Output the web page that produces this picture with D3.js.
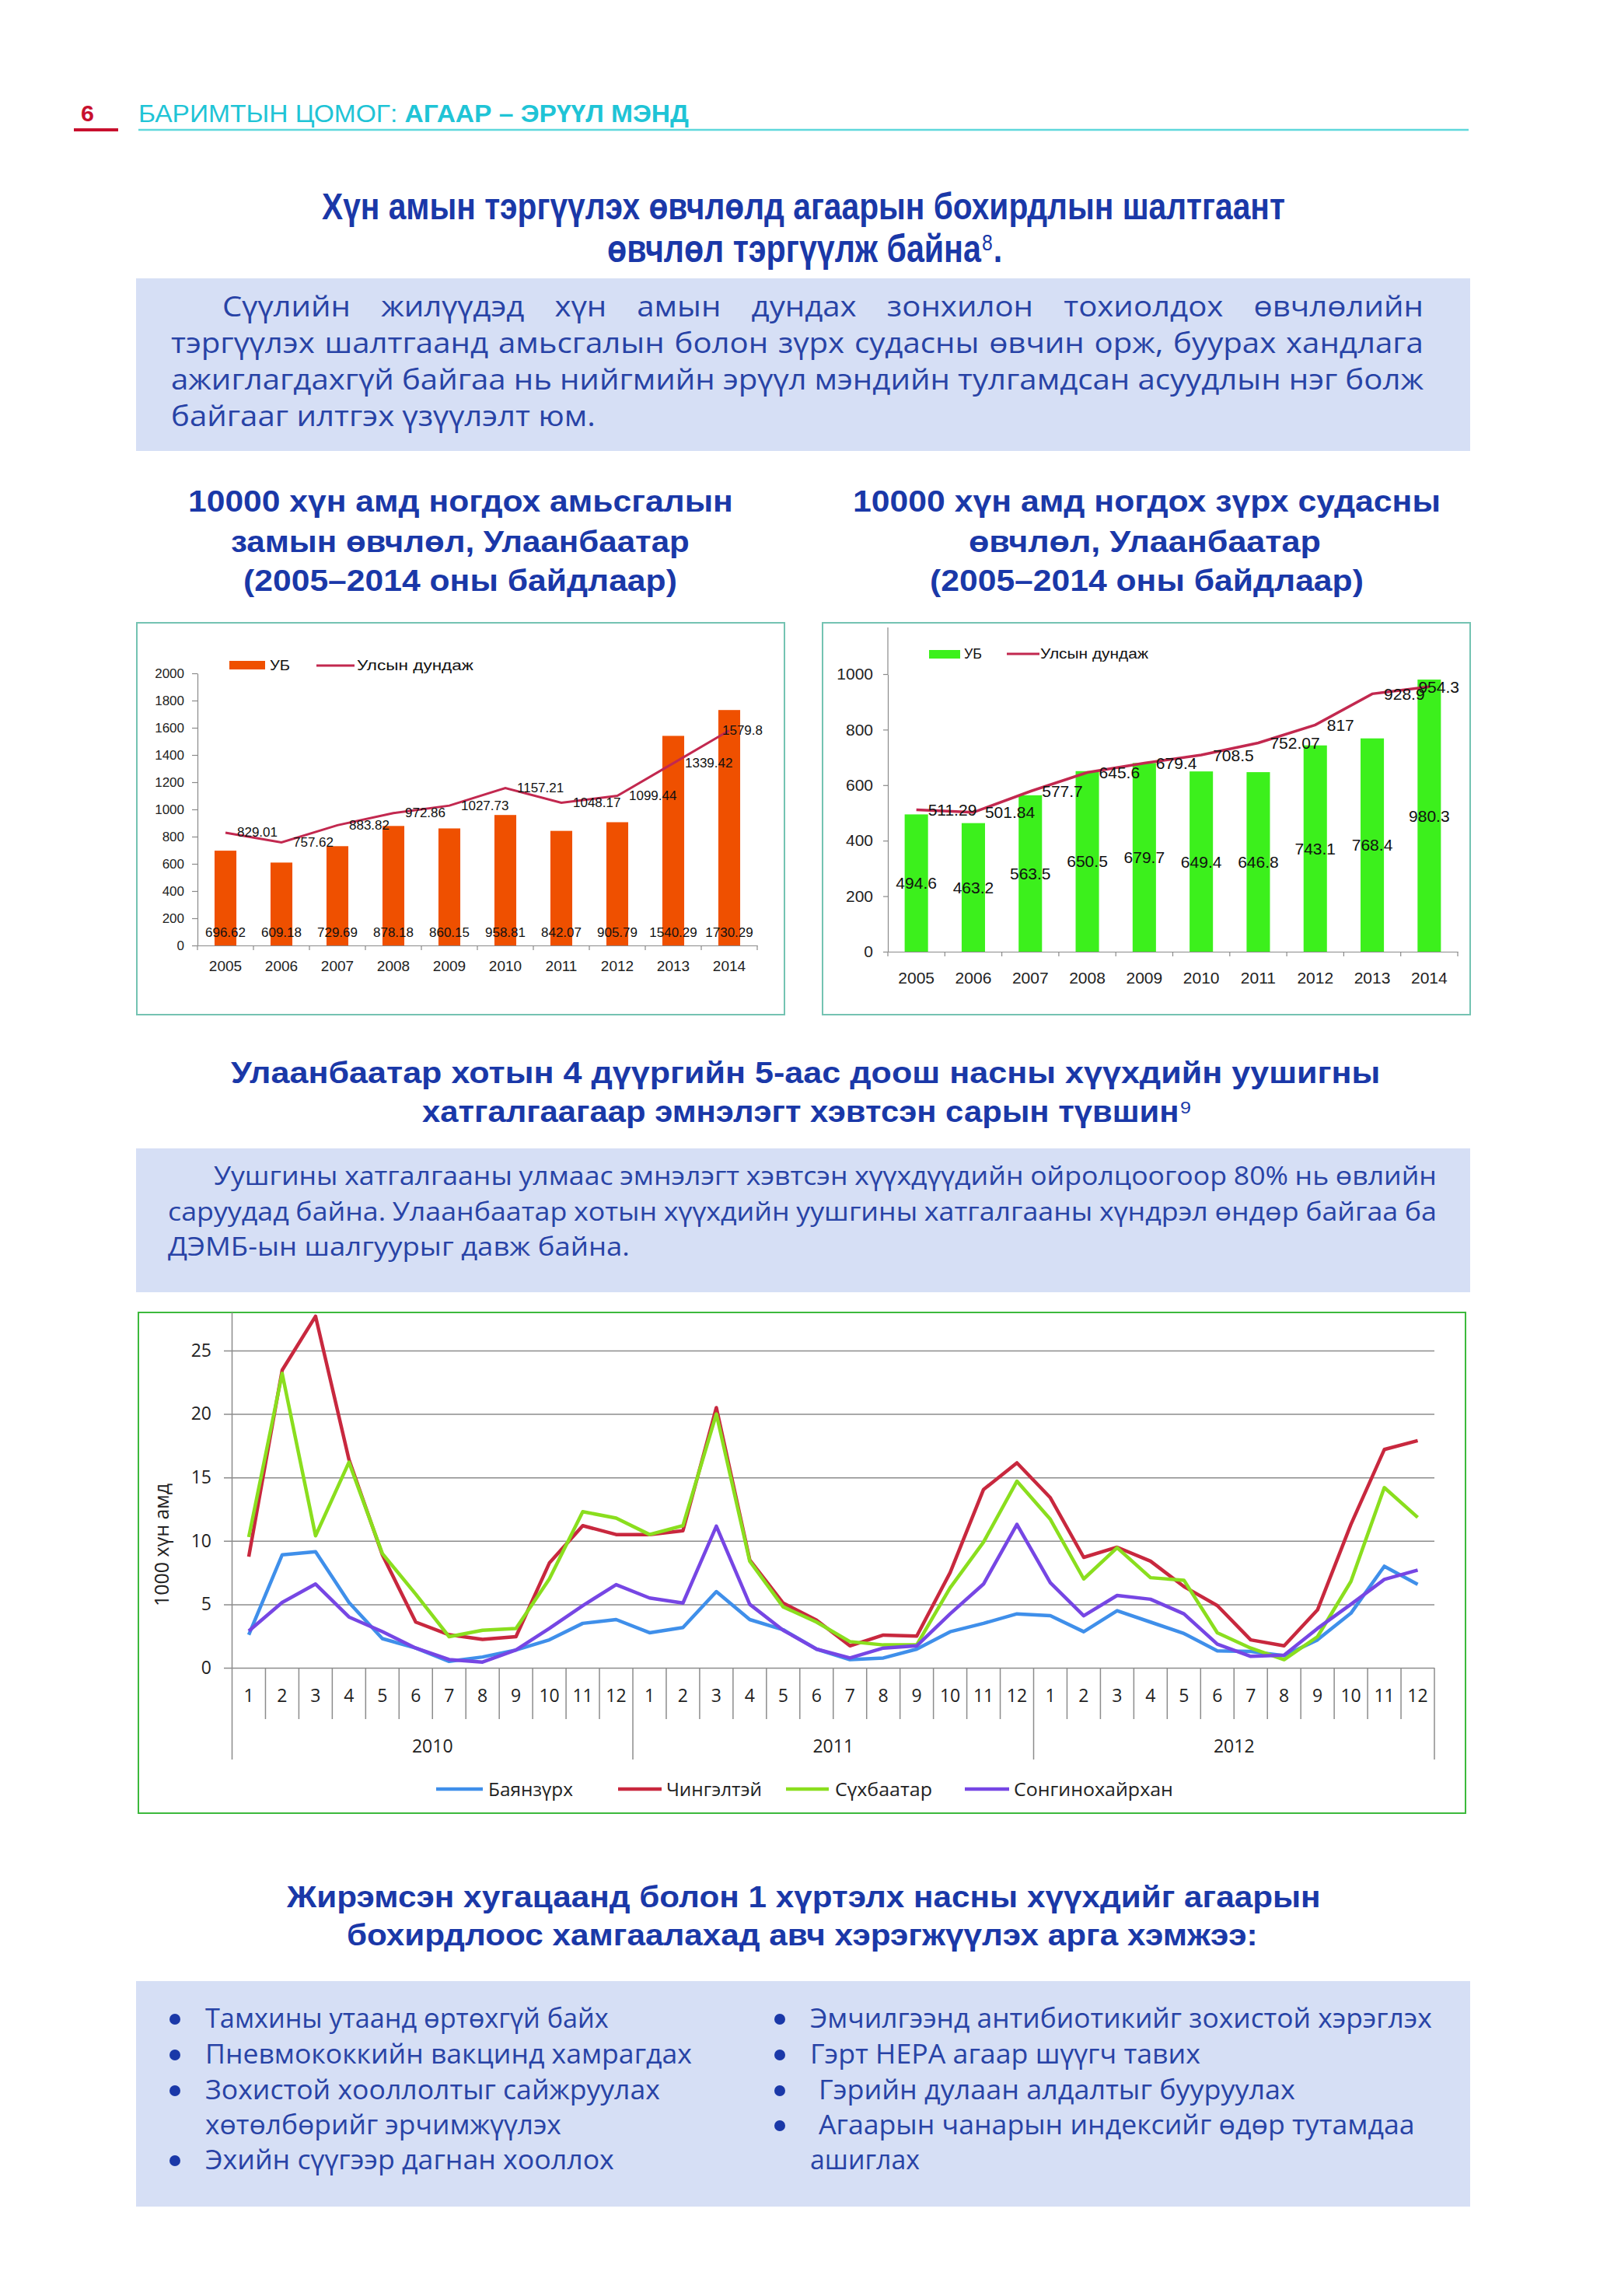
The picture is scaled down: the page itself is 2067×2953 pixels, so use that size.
<!DOCTYPE html>
<html>
<head>
<meta charset="utf-8">
<script src="https://cdn.jsdelivr.net/npm/d3@7"></script>
<style>
  body { margin: 0; background: #fff; }
  svg { display: block; }
</style>
</head>
<body>
<script>
// ---- data ----
const years = [2005, 2006, 2007, 2008, 2009, 2010, 2011, 2012, 2013, 2014];
const respUB = [696.62, 609.18, 729.69, 878.18, 860.15, 958.81, 842.07, 905.79, 1540.29, 1730.29];
const respNat = [829.01, 757.62, 883.82, 972.86, 1027.73, 1157.21, 1048.17, 1099.44, 1339.42, 1579.8];
const cardUB = [494.6, 463.2, 563.5, 650.5, 679.7, 649.4, 646.8, 743.1, 768.4, 980.3];
const cardNat = [511.29, 501.84, 577.7, 645.6, 679.4, 708.5, 752.07, 817, 928.9, 954.3];
const respTicks = [0, 200, 400, 600, 800, 1000, 1200, 1400, 1600, 1800, 2000];
const cardTicks = [0, 200, 400, 600, 800, 1000];

const monthYears = ["2010", "2011", "2012"];
const months = [1, 2, 3, 4, 5, 6, 7, 8, 9, 10, 11, 12];
const pneuTicks = [0, 5, 10, 15, 20, 25];
const bayanzurkh = [2.6, 8.9, 9.15, 5.15, 2.3, 1.55, 0.5, 0.85, 1.4, 2.2, 3.5, 3.8,
  2.76, 3.17, 6.0, 3.8, 3.0, 1.47, 0.64, 0.77, 1.47, 2.84, 3.5, 4.25,
  4.1, 2.84, 4.5, 3.6, 2.7, 1.34, 1.29, 0.95, 2.2, 4.3, 8.0, 6.57];
const chingeltei = [8.76, 23.45, 27.7, 16.4, 8.9, 3.6, 2.6, 2.24, 2.45, 8.25, 11.2, 10.5,
  10.5, 10.8, 20.5, 8.5, 5.1, 3.75, 1.73, 2.58, 2.5, 7.5, 14.05, 16.15,
  13.4, 8.7, 9.5, 8.4, 6.4, 4.9, 2.2, 1.73, 4.56, 11.3, 17.2, 17.9];
const sukhbaatar = [10.3, 23.2, 10.4, 16.2, 9.0, 5.8, 2.45, 2.96, 3.1, 7.0, 12.3, 11.8,
  10.5, 11.2, 20.0, 8.4, 4.8, 3.6, 2.06, 1.8, 1.8, 6.3, 9.9, 14.7,
  11.7, 7.0, 9.46, 7.1, 6.9, 2.76, 1.55, 0.64, 2.45, 6.8, 14.2, 11.85];
const songino = [2.9, 5.15, 6.6, 4.0, 2.85, 1.55, 0.65, 0.45, 1.4, 3.1, 4.9, 6.55,
  5.5, 5.1, 11.16, 5.0, 2.96, 1.47, 0.77, 1.55, 1.73, 4.25, 6.6, 11.3,
  6.7, 4.1, 5.7, 5.4, 4.25, 1.86, 0.9, 1.0, 3.1, 5.0, 6.96, 7.7];
const districts = ["Баянзүрх", "Чингэлтэй", "Сүхбаатар", "Сонгинохайрхан"];
const districtValues = [bayanzurkh, chingeltei, sukhbaatar, songino];

const leftBullets = ["Тамхины утаанд өртөхгүй байх", "Пневмококкийн вакцинд хамрагдах",
  "Зохистой хооллолтыг сайжруулах", "хөтөлбөрийг эрчимжүүлэх", "Эхийн сүүгээр дагнан хооллох"];
const rightBullets = ["Эмчилгээнд антибиотикийг зохистой хэрэглэх", "Гэрт HEPA агаар шүүгч тавих",
  "Гэрийн дулаан алдалтыг бууруулах", "Агаарын чанарын индексийг өдөр тутамдаа", "ашиглах"];

// ---- look ----
const W = 2067, H = 2953;
const SANS = "'Liberation Sans', Arial, sans-serif";
const BODY = "'Open Sans', 'Noto Sans', sans-serif";
const NARROW = "'Liberation Sans Narrow', 'Liberation Sans', Arial, sans-serif";
const TITLE = "#1a38a8";
const TEXT = "#2843a6";
const BOX = "#d6dff5";
const districtColors = ["#3f8fea", "#c8283e", "#8ade1e", "#7646e4"];

const svg = d3.select("body").append("svg").attr("width", W).attr("height", H);
svg.append("rect").attr("width", W).attr("height", H).attr("fill", "#fff");

// squeeze/stretch a text horizontally to a given width (keeps its box honest)
function fit(t, x, y, len) {
    const w = t.node().getComputedTextLength();
    t.attr("x", 0).attr("y", 0).attr("transform", `translate(${x},${y}) scale(${len / w},1)`);
    return len / w;
}

function label(g, s, x, y, o = {}) {
    const t = g.append("text")
        .attr("x", x).attr("y", y)
        .attr("font-family", o.family || SANS)
        .attr("font-size", o.size || 20)
        .attr("font-weight", o.weight || "normal")
        .attr("fill", o.fill || "#000")
        .attr("text-anchor", o.anchor || "start")
        .text(s);
    if (o.baseline) t.attr("dominant-baseline", o.baseline);
    if (o.len) fit(t, x, y, o.len);
    return t;
}

// title line ending with a footnote number (kept as separate texts)
function supTitle(s, sup, tail, x, y, len, size) {
    const o = { size, weight: "bold", family: NARROW, fill: TITLE };
    const main = label(svg, s, x, y, o);
    const sx = fit(main, x, y, len);
    let xe = x + len + 1;
    const st = label(svg, sup, 0, 0, Object.assign({}, o, { size: size * 0.6, weight: "normal" }));
    const sw = st.node().getComputedTextLength() * sx;
    fit(st, xe, y - size * 0.3, sw);
    xe += sw + 1;
    if (tail) {
        const tt = label(svg, tail, 0, 0, o);
        fit(tt, xe, y, tt.node().getComputedTextLength() * sx);
    }
}

// justified paragraph: words are spread to the right edge, last line left
function paragraph(lines, x0s, x1, ys, lastWidth, size) {
    const g = svg.append("g");
    const mk = s => g.append("text").attr("font-family", BODY).attr("font-size", size).attr("fill", TEXT).text(s);
    const probe = mk(lines[lines.length - 1]);
    const sx = lastWidth / probe.node().getComputedTextLength();
    probe.remove();
    const minGap = size * 0.26;
    lines.forEach((line, i) => {
        if (i === lines.length - 1) {
            fit(mk(line), x0s[i], ys[i], lastWidth);
            return;
        }
        const words = line.split(" ");
        const nodes = words.map(mk);
        const nat = nodes.map(n => n.node().getComputedTextLength());
        const avail = x1 - x0s[i];
        const s = Math.min(sx, (avail - minGap * (words.length - 1)) / d3.sum(nat));
        const ws = nat.map(w => w * s);
        const gap = (avail - d3.sum(ws)) / (words.length - 1);
        let x = x0s[i];
        nodes.forEach((n, j) => {
            fit(n, x, ys[i], ws[j]);
            x += ws[j] + gap;
        });
    });
}

// ---- header ----
label(svg, "6", 104, 156, { size: 30, fill: "#c8102e", family: NARROW, weight: "bold", len: 17 });
svg.append("line").attr("x1", 95).attr("x2", 152).attr("y1", 167).attr("y2", 167)
    .attr("stroke", "#c8102e").attr("stroke-width", 4);
svg.append("line").attr("x1", 178).attr("x2", 1889).attr("y1", 167).attr("y2", 167)
    .attr("stroke", "#5fd8dc").attr("stroke-width", 2.5);
const head = svg.append("text").attr("font-family", NARROW).attr("font-size", 32).attr("fill", "#1fc4d6");
head.append("tspan").text("БАРИМТЫН ЦОМОГ: ");
head.append("tspan").attr("font-weight", "bold").text("АГААР – ЭРҮҮЛ МЭНД");
fit(head, 178, 157, 708);

// ---- title 1 + box 1 ----
label(svg, "Хүн амын тэргүүлэх өвчлөлд агаарын бохирдлын шалтгаант", 414, 282,
    { size: 49, weight: "bold", family: NARROW, fill: TITLE, len: 1239 });
supTitle("өвчлөл тэргүүлж байна", "8", ".", 781, 337, 481, 49);

svg.append("rect").attr("x", 175).attr("y", 358).attr("width", 1716).attr("height", 222).attr("fill", BOX);
paragraph([
    "Сүүлийн жилүүдэд хүн амын дундах зонхилон тохиолдох өвчлөлийн",
    "тэргүүлэх шалтгаанд амьсгалын болон зүрх судасны өвчин орж, буурах хандлага",
    "ажиглагдахгүй байгаа нь нийгмийн эрүүл мэндийн тулгамдсан асуудлын нэг болж",
    "байгааг илтгэх үзүүлэлт юм."
], [286, 220, 220, 220], 1831, [407, 454, 501, 548], 546, 36);

// ---- chart titles ----
const chartTitleL = [["10000 хүн амд ногдох амьсгалын", 242, 701], ["замын өвчлөл, Улаанбаатар", 297, 590], ["(2005–2014 оны байдлаар)", 313, 558]];
const chartTitleR = [["10000 хүн амд ногдох зүрх судасны", 1097, 756], ["өвчлөл, Улаанбаатар", 1246, 453], ["(2005–2014 оны байдлаар)", 1196, 558]];
[658, 710, 760].forEach((y, i) => {
    label(svg, chartTitleL[i][0], chartTitleL[i][1], y, { size: 38, weight: "bold", family: SANS, fill: TITLE, len: chartTitleL[i][2] });
    label(svg, chartTitleR[i][0], chartTitleR[i][1], y, { size: 38, weight: "bold", family: SANS, fill: TITLE, len: chartTitleR[i][2] });
});

// ---- bar + line charts ----
function barChart(c) {
    const g = svg.append("g");
    g.append("rect").attr("x", c.frame[0]).attr("y", c.frame[1])
        .attr("width", c.frame[2] - c.frame[0]).attr("height", c.frame[3] - c.frame[1])
        .attr("fill", "#fff").attr("stroke", "#74c3b2").attr("stroke-width", 2);

    const x = d3.scaleBand().domain(years).range([c.xl, c.xr]);
    const y = d3.scaleLinear().domain([0, c.max]).range([c.yb, c.yt]);
    const bw = x.bandwidth() * c.barFrac;
    const cx = d => x(d) + x.bandwidth() / 2;

    const ya = g.append("g").attr("transform", `translate(${c.xl},0)`)
        .call(d3.axisLeft(y).tickValues(c.ticks).tickFormat(d3.format("d"))
            .tickSize(c.tick).tickSizeOuter(0).tickPadding(c.pad));
    ya.selectAll("line,path").attr("stroke", "#8a8a8a").attr("stroke-width", 1.2);
    ya.selectAll("text").attr("font-family", SANS).attr("font-size", c.fs).attr("fill", "#222");
    if (c.axisTop) {
        g.append("line").attr("x1", c.xl).attr("x2", c.xl).attr("y1", c.axisTop).attr("y2", c.yt)
            .attr("stroke", "#8a8a8a").attr("stroke-width", 1.2);
    }

    g.selectAll(".bar").data(years).join("rect")
        .attr("x", d => cx(d) - bw / 2)
        .attr("y", (d, i) => y(c.bars[i]))
        .attr("width", bw)
        .attr("height", (d, i) => c.yb - y(c.bars[i]))
        .attr("fill", c.barColor);

    const xa = g.append("g").attr("transform", `translate(0,${c.yb})`)
        .call(d3.axisBottom(x).tickSize(0).tickPadding(c.xpad));
    xa.select(".domain").attr("stroke", "#8a8a8a").attr("stroke-width", 1.2);
    xa.selectAll("text").attr("font-family", SANS).attr("font-size", c.xfs).attr("fill", "#222");
    g.selectAll(".bt").data(d3.range(years.length + 1)).join("line")
        .attr("x1", i => c.xl + i * x.step()).attr("x2", i => c.xl + i * x.step())
        .attr("y1", c.yb).attr("y2", c.yb + 6)
        .attr("stroke", "#8a8a8a").attr("stroke-width", 1.2);

    g.append("path").datum(c.line)
        .attr("fill", "none").attr("stroke", "#c2284f").attr("stroke-width", c.lw)
        .attr("d", d3.line().x((d, i) => cx(years[i])).y(d => y(d)));

    // bar values
    years.forEach((d, i) => {
        label(g, String(c.bars[i]), cx(d), c.barLabelY(y, c.bars[i]),
            { size: c.vfs, anchor: "middle", baseline: "central", fill: "#111" });
    });
    // line values, right of the point
    years.forEach((d, i) => {
        const t = label(g, String(c.line[i]), 0, y(c.line[i]), { size: c.vfs, baseline: "central", fill: "#111" });
        const w = t.node().getComputedTextLength();
        t.attr("x", Math.min(cx(d) + 15, c.labelMax - w));
    });

    // legend
    const L = c.legend;
    g.append("rect").attr("x", L.rect[0]).attr("y", L.rect[1]).attr("width", L.rect[2]).attr("height", L.rect[3]).attr("fill", c.barColor);
    label(g, "УБ", L.t1[0], L.y, { size: L.fs, baseline: "central", len: L.t1[1], fill: "#111" });
    g.append("line").attr("x1", L.line[0]).attr("x2", L.line[1]).attr("y1", L.y).attr("y2", L.y)
        .attr("stroke", "#c2284f").attr("stroke-width", 3);
    label(g, "Улсын дундаж", L.t2[0], L.y, { size: L.fs, baseline: "central", len: L.t2[1], fill: "#111" });
}

barChart({
    frame: [176, 801, 1009, 1305],
    xl: 254, xr: 974, yb: 1216, yt: 866, max: 2000,
    ticks: respTicks, tick: 7, pad: 10, fs: 17,
    xpad: 20, xfs: 19, vfs: 17, lw: 3,
    bars: respUB, line: respNat, barColor: "#ef5000", barFrac: 0.39,
    barLabelY: () => 1199, labelMax: 981,
    legend: { rect: [295, 850, 46, 11], t1: [347, 26], line: [407, 456], t2: [459, 150], y: 856, fs: 18 }
});

barChart({
    frame: [1058, 801, 1891, 1305],
    xl: 1142, xr: 1875, yb: 1224, yt: 867, max: 1000, axisTop: 807,
    ticks: cardTicks, tick: 6, pad: 13, fs: 21,
    xpad: 26, xfs: 21, vfs: 21, lw: 3.5,
    bars: cardUB, line: cardNat, barColor: "#3cf01c", barFrac: 0.41,
    barLabelY: (y, v) => (y(0) + y(v)) / 2, labelMax: 1877,
    legend: { rect: [1195, 836, 40, 11], t1: [1240, 23], line: [1295, 1337], t2: [1338, 139], y: 841, fs: 18 }
});

// ---- section 2 ----
label(svg, "Улаанбаатар хотын 4 дүүргийн 5-аас доош насны хүүхдийн уушигны", 297, 1393,
    { size: 38, weight: "bold", family: NARROW, fill: TITLE, len: 1479 });
supTitle("хатгалгаагаар эмнэлэгт хэвтсэн сарын түвшин", "9", null, 543, 1443, 974, 38);

svg.append("rect").attr("x", 175).attr("y", 1477).attr("width", 1716).attr("height", 185).attr("fill", BOX);
paragraph([
    "Уушгины хатгалгааны улмаас эмнэлэгт хэвтсэн хүүхдүүдийн ойролцоогоор 80% нь өвлийн",
    "саруудад байна. Улаанбаатар хотын хүүхдийн уушгины хатгалгааны хүндрэл өндөр байгаа ба",
    "ДЭМБ-ын шалгуурыг давж байна."
], [275, 216, 216], 1848, [1524, 1570, 1615], 594, 33);

// ---- monthly line chart ----
(function lineChart() {
    const g = svg.append("g");
    g.append("rect").attr("x", 178).attr("y", 1688).attr("width", 1707).attr("height", 644)
        .attr("fill", "#fff").attr("stroke", "#3cb93c").attr("stroke-width", 2);

    const xl = 298.5, xr = 1845, yb = 2145;
    const x = d3.scaleBand().domain(d3.range(36)).range([xl, xr]);
    const y = d3.scaleLinear().domain([0, 25]).range([yb, 1737]);
    const cx = i => x(i) + x.bandwidth() / 2;

    const ya = g.append("g").attr("transform", "translate(288,0)")
        .call(d3.axisLeft(y).tickValues(pneuTicks).tickSize(-(xr - 288)).tickPadding(16));
    ya.select(".domain").remove();
    ya.selectAll("line").attr("stroke", "#8c8c8c").attr("stroke-width", 1.5);
    ya.selectAll("text").attr("font-family", BODY).attr("font-size", 23).attr("fill", "#222");

    g.append("line").attr("x1", xl).attr("x2", xl).attr("y1", 1688).attr("y2", 2263)
        .attr("stroke", "#8c8c8c").attr("stroke-width", 1.5);

    // two-level category axis
    g.selectAll(".div").data(d3.range(1, 37)).join("line")
        .attr("x1", i => xl + i * x.step()).attr("x2", i => xl + i * x.step())
        .attr("y1", yb).attr("y2", i => i % 12 === 0 ? 2263 : 2211)
        .attr("stroke", "#8c8c8c").attr("stroke-width", 1.5);
    const xa = g.append("g").attr("transform", `translate(0,${yb})`)
        .call(d3.axisBottom(x).tickSize(0).tickPadding(28).tickFormat(i => months[i % 12]));
    xa.select(".domain").remove();
    xa.selectAll("text").attr("font-family", BODY).attr("font-size", 23).attr("fill", "#222");
    monthYears.forEach((yr, k) => {
        label(g, yr, (cx(k * 12) + cx(k * 12 + 11)) / 2, 2254, { size: 23, family: BODY, anchor: "middle", fill: "#222" });
    });

    const line = d3.line().x((d, i) => cx(i)).y(d => y(d));
    districtValues.forEach((vals, k) => {
        g.append("path").datum(vals).attr("fill", "none")
            .attr("stroke", districtColors[k]).attr("stroke-width", 4.5)
            .attr("stroke-linejoin", "round").attr("d", line);
    });

    label(g, "1000 хүн амд", 0, 0, { size: 25, family: BODY, anchor: "middle", baseline: "central", fill: "#222" })
        .attr("transform", "translate(207,1987) rotate(-90)");

    const legX = [[561, 621, 628, 109], [795, 851, 857, 123], [1011, 1066, 1074, 125], [1241, 1298, 1304, 205]];
    districts.forEach((name, k) => {
        g.append("line").attr("x1", legX[k][0]).attr("x2", legX[k][1]).attr("y1", 2301).attr("y2", 2301)
            .attr("stroke", districtColors[k]).attr("stroke-width", 4.5);
        label(g, name, legX[k][2], 2301, { size: 24, family: BODY, baseline: "central", fill: "#222", len: legX[k][3] });
    });
})();

// ---- section 3 ----
label(svg, "Жирэмсэн хугацаанд болон 1 хүртэлх насны хүүхдийг агаарын", 369, 2453,
    { size: 39, weight: "bold", family: NARROW, fill: TITLE, len: 1330 });
label(svg, "бохирдлоос хамгаалахад авч хэрэгжүүлэх арга хэмжээ:", 446, 2502,
    { size: 39, weight: "bold", family: NARROW, fill: TITLE, len: 1172 });

svg.append("rect").attr("x", 175).attr("y", 2548).attr("width", 1716).attr("height", 290).attr("fill", BOX);
const bulletY = [2608, 2654, 2700, 2745, 2790];
const leftLay = [[264, 519, true], [264, 626, true], [264, 585, true], [264, 458, false], [264, 526, true]];
const rightLay = [[1042, 800, true], [1042, 502, true], [1053, 613, true], [1053, 767, true], [1042, 141, false]];
function bulletCol(items, lay, bx) {
    items.forEach((s, i) => {
        if (lay[i][2]) svg.append("circle").attr("cx", bx).attr("cy", bulletY[i] - 11).attr("r", 7).attr("fill", TITLE);
        label(svg, s, lay[i][0], bulletY[i], { size: 34, family: BODY, fill: TEXT, len: lay[i][1] });
    });
}
bulletCol(leftBullets, leftLay, 225);
bulletCol(rightBullets, rightLay, 1003);
</script>
</body>
</html>
